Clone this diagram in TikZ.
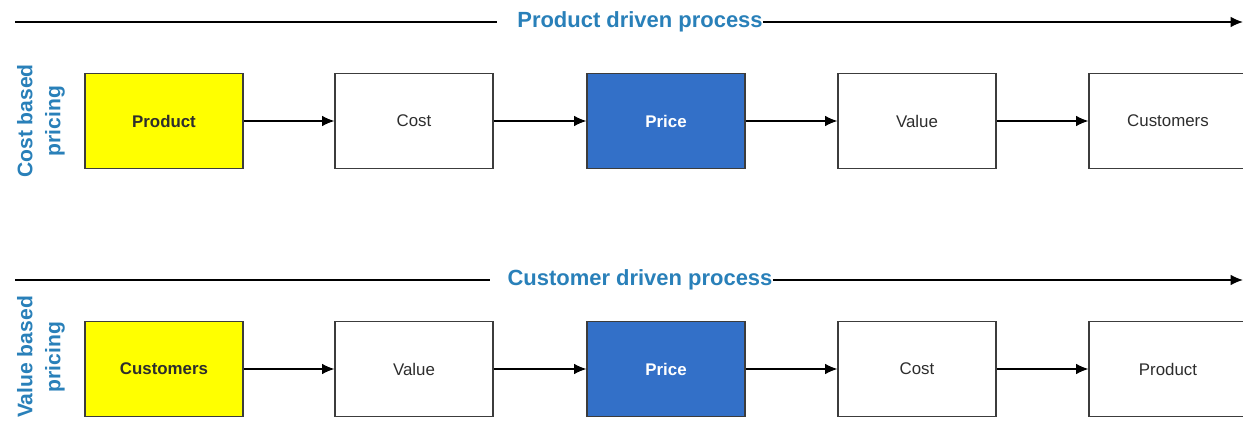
\documentclass[tikz,border=0pt]{standalone}
\usepackage{fontspec}
\setmainfont{Liberation Sans}
\usepackage{xcolor}
\usepackage{tikz}
\usetikzlibrary{arrows.meta, positioning}
\definecolor{headcolor}{RGB}{41,128,185}
\definecolor{startcolor}{RGB}{255,255,0}
\definecolor{pricecolor}{RGB}{51,112,200}
\definecolor{edgecolor}{RGB}{60,60,60}
\definecolor{labelcolor}{RGB}{45,45,45}

\begin{document}
\begin{tikzpicture}[
    x=0.02cm, y=-0.02cm,
    stage/.style={draw=edgecolor, line width=0.7pt, minimum width=3.16cm, minimum height=1.9cm, text=labelcolor, font=\fontsize{9.6}{12}\selectfont, align=center, inner sep=0pt},
    heading/.style={text=headcolor, font=\bfseries\fontsize{12.5}{14}\selectfont, inner sep=0pt},
    side/.style={text=headcolor, font=\bfseries\fontsize{12}{16}\selectfont, align=center, rotate=90, inner sep=0pt},
    flow/.style={line width=0.7pt, -{Latex[length=7pt, width=6pt]}},
    axis/.style={line width=0.8pt}
]
    \useasboundingbox (0,0) rectangle (1243,425);

    % Cost based pricing
    \node[heading] (pdp) at (640,22) {Product driven process};
    \coordinate (pdpa) at (15,22);
    \coordinate (pdpb) at (497,22);
    \coordinate (pdpe) at (1243,22);
    \draw[axis] (pdpa) -- (pdpb);
    \draw[axis, -{Latex[length=7pt, width=6pt]}] (pdp.east) -- (pdpe);
    \node[side] (cbp) at (41,121) {Cost based\\pricing};
    \node[stage, fill=startcolor, font=\bfseries\fontsize{9.6}{12}\selectfont] (prod1) at (164,121) {Product};
    \node[stage] (cost1) at (414,121) {Cost};
    \node[stage, fill=pricecolor, text=white, font=\bfseries\fontsize{9.6}{12}\selectfont] (price1) at (666,121) {Price};
    \node[stage] (val1) at (917,121) {Value};
    \node[stage] (cust1) at (1168,121) {Customers};
    \draw[flow] (prod1) -- (cost1);
    \draw[flow] (cost1) -- (price1);
    \draw[flow] (price1) -- (val1);
    \draw[flow] (val1) -- (cust1);

    % Value based pricing
    \node[heading] (cdp) at (640,280) {Customer driven process};
    \coordinate (cdpa) at (15,280);
    \coordinate (cdpb) at (490,280);
    \coordinate (cdpe) at (1243,280);
    \draw[axis] (cdpa) -- (cdpb);
    \draw[axis, -{Latex[length=7pt, width=6pt]}] (cdp.east) -- (cdpe);
    \node[side] (vbp) at (41,357) {Value based\\pricing};
    \node[stage, fill=startcolor, font=\bfseries\fontsize{9.6}{12}\selectfont] (cust2) at (164,369) {Customers};
    \node[stage] (val2) at (414,369) {Value};
    \node[stage, fill=pricecolor, text=white, font=\bfseries\fontsize{9.6}{12}\selectfont] (price2) at (666,369) {Price};
    \node[stage] (cost2) at (917,369) {Cost};
    \node[stage] (prod2) at (1168,369) {Product};
    \draw[flow] (cust2) -- (val2);
    \draw[flow] (val2) -- (price2);
    \draw[flow] (price2) -- (cost2);
    \draw[flow] (cost2) -- (prod2);
\end{tikzpicture}
\end{document}
